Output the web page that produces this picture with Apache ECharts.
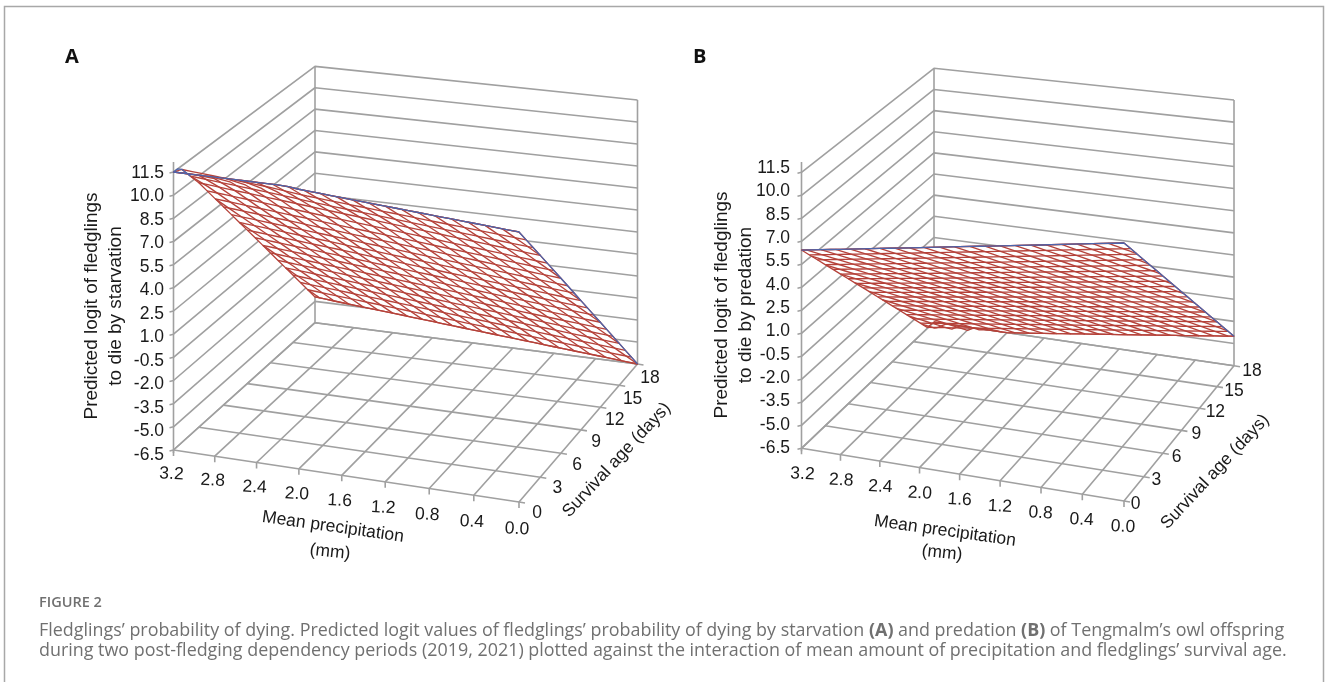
<!DOCTYPE html>
<html><head><meta charset="utf-8"><style>html,body{margin:0;padding:0;background:#fff}#c{width:1328px;height:682px}</style>
<script src="https://cdn.jsdelivr.net/npm/echarts@6/dist/echarts.min.js"></script></head><body><div id="c"></div>
<script>
const precipTicks=[3.2,2.8,2.4,2.0,1.6,1.2,0.8,0.4,0.0];
const ageTicks=[0,3,6,9,12,15,18];
const logitTicks=[-6.5,-5.0,-3.5,-2.0,-0.5,1.0,2.5,4.0,5.5,7.0,8.5,10.0,11.5];
// predicted logit read at each survival-age tick (rows) and precipitation tick (columns, 3.2 to 0.0)
const logitStarvation=[
 [12.1,11.9,11.7,11.39,11.19,11.0,10.81,10.62,10.43],
 [9.55,9.31,9.07,8.82,8.58,8.34,8.10,7.85,7.61],
 [6.70,6.46,6.22,5.98,5.75,5.51,5.27,5.03,4.79],
 [3.86,3.62,3.39,3.15,2.91,2.67,2.44,2.20,1.96],
 [1.01,0.78,0.54,0.31,0.08,-0.16,-0.39,-0.63,-0.86],
 [-1.84,-2.07,-2.30,-2.53,-2.76,-2.99,-3.22,-3.45,-3.68],
 [-4.69,-4.92,-5.14,-5.37,-5.60,-5.82,-6.05,-6.27,-6.5]];
const logitPredation=[
 [6.43,6.81,7.20,7.58,7.97,8.35,8.73,9.12,9.5],
 [4.16,4.54,4.91,5.29,5.66,6.04,6.42,6.79,7.17],
 [1.89,2.26,2.62,2.99,3.36,3.73,4.09,4.46,4.83],
 [-0.37,-0.01,0.35,0.71,1.07,1.42,1.78,2.14,2.50],
 [-2.64,-2.29,-1.94,-1.59,-1.24,-0.89,-0.54,-0.19,0.16],
 [-4.91,-4.57,-4.23,-3.88,-3.54,-3.2,-2.85,-2.51,-2.17],
 [-7.18,-6.85,-6.51,-6.18,-5.84,-5.51,-5.17,-4.84,-4.5]];
const yTitleA=['Predicted logit of fledglings','to die by starvation'];
const yTitleB=['Predicted logit of fledglings','to die by predation'];
const xTitle=['Mean precipitation','(mm)'];
const ageTitle='Survival age (days)';
const ZMIN=-6.5,ZMAX=11.5,PMAX=3.2,AMAX=18;
const panels=[
 {name:'A',gridLeft:0,P00:[173.5,450],P10:[519,502],P01:[315,322.7],P11:[637.5,364],H:[278,256.3,264],axisTop:162,zLabelX:164,zDy:[5,1],
  xOff:[[-2,24],[-2,27]],ageOff:[[18,10.7],[12.5,14]],matrix:logitStarvation,ytitle:yTitleA,yx:[92,116],yc:306,
  xt:[333,527],xt2:[330,552],st:[616.7,460],letter:[65,57],rows:18,dp:.15,shear:.05,corner:true},
 {name:'B',gridLeft:200,P00:[801.5,448.3],P10:[1124,501],P01:[934,322],P11:[1234,365.7],H:[276,253.7,265.7],axisTop:162,zLabelX:790,zDy:[0,-4],
  xOff:[[1,25.7],[-1,25.7]],ageOff:[[11.7,3],[18,5]],matrix:logitPredation,ytitle:yTitleB,yx:[722,746],yc:305,
  xt:[945,531],xt2:[942,553],st:[1215,471.7],letter:[693,57],rows:18,dp:.15,shear:.08,corner:false}
];
function makeProj(c){
 const d=(a,b)=>a[0]*b[1]-a[1]*b[0];
 const s=[0,1].map(k=>c.P00[k]-c.P10[k]+c.P11[k]-c.P01[k]);
 const d1=[0,1].map(k=>c.P10[k]-c.P11[k]),d2=[0,1].map(k=>c.P01[k]-c.P11[k]);
 const D=d(d1,d2),g=d(s,d2)/D,h=d(d1,s)/D;
 const A=[0,1].map(k=>c.P10[k]*(1+g)-c.P00[k]),B=[0,1].map(k=>c.P01[k]*(1+h)-c.P00[k]);
 const h2=c.H[0]/c.H[1]-1,g2=c.H[0]/c.H[2]-h2-1;
 return (u,v,t)=>{const w=1+g*u+h*v;
  const x=(c.P00[0]+A[0]*u+B[0]*v)/w,y=(c.P00[1]+A[1]*u+B[1]*v)/w;
  return [x,y-t*c.H[0]/(1+g2*u+h2*v)];};
}
// surface height between the read ticks, held inside the axis range as the original chart clips it
function surf(m,p,a){
 const fx=(PMAX-p)/0.4,fy=a/3;
 const i=Math.min(7,Math.max(0,Math.floor(fx))),j=Math.min(5,Math.max(0,Math.floor(fy)));
 const s=fx-i,t=fy-j;
 const z=m[j][i]*(1-s)*(1-t)+m[j][i+1]*s*(1-t)+m[j+1][i]*(1-s)*t+m[j+1][i+1]*s*t;
 return Math.max(ZMIN,Math.min(ZMAX,z));
}
const GREY='#a0a0a0',RED='#b5423a',BLUE='#4c64ac',TXT='#1a1a1a',FONT='"Liberation Sans",Arial,sans-serif';
const zT=z=>echarts.number.linearMap(z,[ZMIN,ZMAX],[0,1]);
function toUV(api,params,p,a){const q=api.coord([p,a]),r=params.coordSys;return [(q[0]-r.x)/r.width,(r.y+r.height-q[1])/r.height];}
const series=[],grid=[],xAxis=[],yAxis=[];
panels.forEach((c,n)=>{
 grid.push({left:c.gridLeft,top:0,width:100,height:100,show:false});
 xAxis.push({type:'value',gridIndex:n,min:0,max:PMAX,inverse:true,show:false});
 yAxis.push({type:'value',gridIndex:n,min:0,max:AMAX,show:false});
 const pr=makeProj(c);
 const P=(api,params,p,a,z)=>{const uv=toUV(api,params,p,a);return pr(uv[0],uv[1],zT(z));};
 const S=(api,params,p,a)=>P(api,params,p,a,surf(c.matrix,p,a));
 const line=(pts,col,w)=>({type:'polyline',shape:{points:pts},style:{stroke:col,lineWidth:w,fill:null,lineJoin:'round'}});
 const base={type:'custom',xAxisIndex:n,yAxisIndex:n,animation:false,silent:true,clip:false};
 const wall=[];
 logitTicks.forEach(z=>wall.push(['z',z]));
 precipTicks.forEach(p=>wall.push(['p',p]));
 ageTicks.forEach(a=>wall.push(['a',a]));
 wall.push(['v',PMAX],['v',0],['axis',0]);
 series.push({...base,name:c.name+' walls',encode:{x:1,y:1},data:wall.map((w,i)=>[i,w[1]]),
  renderItem(params,api){const w=wall[params.dataIndex];const v=w[1];
   if(w[0]=='z'){const a=P(api,params,PMAX,0,v),b=P(api,params,PMAX,AMAX,v),e=P(api,params,0,AMAX,v);
     return line([[a[0]-4,a[1]+1],a,b,e],GREY,1.6);}
   if(w[0]=='p'){const a=P(api,params,v,0,ZMIN),b=P(api,params,v,AMAX,ZMIN);return line([[a[0],a[1]+6],a,b],GREY,1.6);}
   if(w[0]=='a'){const a=P(api,params,PMAX,v,ZMIN),b=P(api,params,0,v,ZMIN);return line([a,b,[b[0]+6,b[1]+1]],GREY,1.6);}
   if(w[0]=='v'){const a=P(api,params,v,AMAX,ZMIN),b=P(api,params,v,AMAX,ZMAX);return line([a,b],GREY,1.6);}
   const a=P(api,params,PMAX,0,ZMIN);return line([[a[0],a[1]+3],[a[0],c.axisTop]],GREY,1.6);
  }});
 // white sheet of the surface
 series.push({...base,name:c.name+' surface fill',encode:{x:0,y:1},data:[[0,0]],
  renderItem(params,api){const pts=[];
   for(let p=PMAX;p>0.001;p-=0.1)pts.push(S(api,params,p,0));
   for(let a=0;a<AMAX;a+=1)pts.push(S(api,params,0,a));
   for(let p=0;p<PMAX;p+=0.1)pts.push(S(api,params,p,AMAX));
   for(let a=AMAX;a>0;a-=1)pts.push(S(api,params,PMAX,a));
   return {type:'polygon',shape:{points:pts},style:{fill:'#fff',stroke:RED,lineWidth:1.3,lineJoin:'round'}};}});
 // mesh: rows of constant age
 const rowsData=[];for(let j=0;j<=c.rows;j++)rowsData.push([0,j*AMAX/c.rows]);
 series.push({...base,name:c.name+' mesh rows',encode:{x:0,y:1},data:rowsData,
  renderItem(params,api){const a=api.value(1),pts=[];
   for(let k=0;k<=32;k++)pts.push(S(api,params,k*0.1,a));
   return line(pts,RED,1.35);}});
 // mesh: oblique family
 const diag=[];for(let s=0;s<PMAX+c.shear*AMAX;s+=c.dp)diag.push([s,0]);
 series.push({...base,name:c.name+' mesh oblique',encode:{x:0,y:1},data:diag,
  renderItem(params,api){const s=api.value(0),pts=[];
   const a0=Math.max(0,(s-PMAX)/c.shear),a1=Math.min(AMAX,s/c.shear);
   for(let k=0;k<=12;k++){const a=a0+(a1-a0)*k/12;pts.push(S(api,params,s-c.shear*a,a));}
   return line(pts,RED,1.35);}});
 // blue edge
 series.push({...base,name:c.name+' edge',encode:{x:0,y:1},data:[[0,0]],
  renderItem(params,api){const pts=[];
   if(c.corner)for(let a=2;a>0;a-=0.5)pts.push(S(api,params,PMAX,a));
   for(let p=PMAX;p>0.001;p-=0.1)pts.push(S(api,params,p,0));
   for(let a=0;a<=AMAX;a+=1)pts.push(S(api,params,0,a));
   return line(pts,BLUE,1.3);}});
 const labels=[];
 logitTicks.forEach(z=>labels.push(['z',z]));precipTicks.forEach(p=>labels.push(['p',p]));ageTicks.forEach(a=>labels.push(['a',a]));
 series.push({...base,name:c.name+' labels',encode:{x:1,y:1},data:labels.map((l,i)=>[i,l[1]]),
  renderItem(params,api){const l=labels[params.dataIndex],v=l[1];let q,txt,al='center',rot=0;
   if(l[0]=='z'){const a=P(api,params,PMAX,0,v);const f=(v-ZMIN)/(ZMAX-ZMIN);q=[c.zLabelX,a[1]+c.zDy[0]+(c.zDy[1]-c.zDy[0])*f];txt=v.toFixed(1);al='right';}
   else if(l[0]=='p'){const a=P(api,params,v,0,ZMIN);const f=1-v/PMAX,o=c.xOff;q=[a[0]+o[0][0]+(o[1][0]-o[0][0])*f,a[1]+o[0][1]+(o[1][1]-o[0][1])*f];txt=v.toFixed(1);rot=-0.05;}
   else{const a=P(api,params,0,v,ZMIN);const f=v/AMAX,o=c.ageOff;q=[a[0]+o[0][0]+(o[1][0]-o[0][0])*f,a[1]+o[0][1]+(o[1][1]-o[0][1])*f];txt=String(v);}
   return {type:'text',x:q[0],y:q[1],rotation:rot,style:{text:txt,fill:TXT,font:'17.5px '+FONT,textAlign:al,textVerticalAlign:'middle'}};}});
});
const T=(x,y,text,deg,font,fill,al)=>({type:'text',x,y,rotation:(deg||0)*Math.PI/180,style:{text,font:font||('17.5px '+FONT),fill:fill||TXT,textAlign:al||'center',textVerticalAlign:'middle'}});
const g=[
 {type:'polyline',shape:{points:[[4.5,682],[4.5,6.5],[1323.5,6.5],[1323.5,682]]},style:{stroke:'#a8a8a8',lineWidth:1.5,fill:null}}
];
panels.forEach(c=>{
 g.push(T(c.letter[0],c.letter[1],c.name,0,'bold 20px "Open Sans",sans-serif','#111','left'));
 const yf='19px '+FONT;
 g.push(T(c.yx[0],c.yc,c.ytitle[0],90,yf));g.push(T(c.yx[1],c.yc,c.ytitle[1],90,yf));
 g.push(T(c.xt[0],c.xt[1],xTitle[0],-8));g.push(T(c.xt2[0],c.xt2[1],xTitle[1],-6));
 g.push(T(c.st[0],c.st[1],ageTitle,47,'17.5px '+FONT));
});
const CF='"Open Sans",sans-serif',CC='#707070';
g.push(T(39,603,'FIGURE 2',0,'600 14.5px '+CF,CC,'left'));
g.push({type:'text',x:39,y:631,style:{text:'Fledglings’ probability of dying. Predicted logit values of fledglings’ probability of dying by starvation {b|(A)} and predation {b|(B)} of Tengmalm’s owl offspring',font:'17.9px '+CF,fill:CC,textVerticalAlign:'middle',rich:{b:{font:'bold 17.9px '+CF,fill:CC}}}});
g.push(T(39,651,'during two post-fledging dependency periods (2019, 2021) plotted against the interaction of mean amount of precipitation and fledglings’ survival age.',0,'17.9px '+CF,CC,'left'));
const chart=echarts.init(document.getElementById('c'),null,{renderer:'canvas'});
chart.setOption({animation:false,backgroundColor:'#fff',grid,xAxis,yAxis,series,graphic:g});
</script></body></html>
